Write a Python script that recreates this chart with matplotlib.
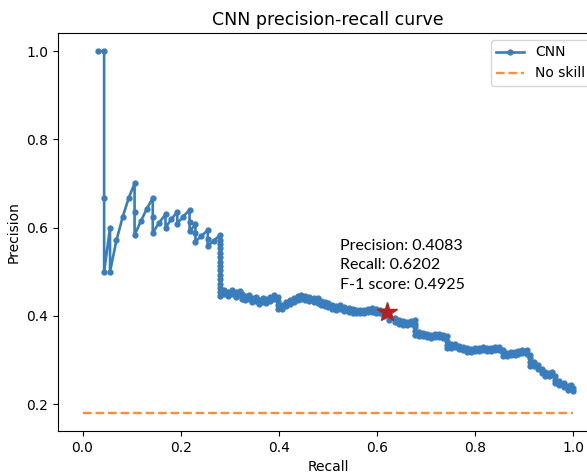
import matplotlib
matplotlib.use("Agg")
import matplotlib.pyplot as plt

# ---- data -------------------------------------------------------------
recall_head = [0.031, 0.044, 0.044, 0.044, 0.056, 0.056, 0.069, 0.082, 0.094, 0.106,
               0.106, 0.106, 0.119, 0.131, 0.143, 0.143, 0.143, 0.156, 0.169, 0.169,
               0.181, 0.193, 0.193, 0.205, 0.218, 0.218, 0.218, 0.230, 0.230, 0.230,
               0.242, 0.255, 0.255, 0.255, 0.267, 0.280]
precision_head = [1.0, 1.0, 0.667, 0.5, 0.6, 0.5, 0.571, 0.625, 0.667, 0.7,
                  0.636, 0.583, 0.615, 0.643, 0.667, 0.625, 0.588, 0.611, 0.630, 0.600,
                  0.619, 0.636, 0.609, 0.625, 0.640, 0.613, 0.592, 0.607, 0.587, 0.568,
                  0.581, 0.594, 0.575, 0.558, 0.570, 0.583]

recall_drop = [0.280] * 14
precision_drop = [0.573, 0.563, 0.553, 0.543, 0.533, 0.523, 0.513, 0.503, 0.493,
                  0.483, 0.473, 0.463, 0.453, 0.445]

recall_mid = [0.288, 0.288, 0.296, 0.296, 0.304, 0.304, 0.312, 0.312, 0.320, 0.320,
              0.325, 0.325, 0.331, 0.331, 0.339, 0.339, 0.345, 0.345, 0.353, 0.353,
              0.359, 0.359, 0.367, 0.367, 0.373, 0.373, 0.381, 0.381, 0.389, 0.389,
              0.398, 0.398, 0.398, 0.398, 0.406, 0.406, 0.414, 0.414, 0.422, 0.422,
              0.430, 0.430, 0.438, 0.438, 0.446, 0.446, 0.454, 0.454, 0.462, 0.462,
              0.471, 0.471, 0.479, 0.479, 0.485, 0.485, 0.493, 0.493, 0.501, 0.501,
              0.509, 0.509, 0.517, 0.517, 0.525, 0.525, 0.533, 0.533, 0.542, 0.542,
              0.550, 0.550, 0.558, 0.558, 0.566, 0.566, 0.574, 0.574, 0.582, 0.582,
              0.590, 0.590, 0.598, 0.598, 0.606, 0.606, 0.615, 0.615]
precision_mid = [0.459, 0.449, 0.454, 0.445, 0.459, 0.449, 0.454, 0.443, 0.456, 0.447,
                 0.449, 0.438, 0.445, 0.436, 0.447, 0.438, 0.440, 0.431, 0.443, 0.434,
                 0.436, 0.427, 0.440, 0.431, 0.438, 0.429, 0.443, 0.434, 0.447, 0.438,
                 0.443, 0.434, 0.424, 0.415, 0.424, 0.415, 0.431, 0.422, 0.436, 0.427,
                 0.440, 0.431, 0.445, 0.436, 0.447, 0.438, 0.445, 0.436, 0.443, 0.434,
                 0.440, 0.431, 0.440, 0.429, 0.434, 0.424, 0.431, 0.422, 0.429, 0.420,
                 0.424, 0.415, 0.422, 0.413, 0.424, 0.415, 0.420, 0.411, 0.418, 0.409,
                 0.415, 0.406, 0.413, 0.406, 0.413, 0.406, 0.413, 0.406, 0.415, 0.409,
                 0.418, 0.409, 0.415, 0.406, 0.413, 0.406, 0.411, 0.400]

recall_tail = [0.625, 0.625, 0.637, 0.637, 0.645, 0.645, 0.653, 0.653, 0.661, 0.661,
               0.669, 0.669, 0.677, 0.677, 0.677, 0.677, 0.677, 0.686, 0.686, 0.694,
               0.694, 0.702, 0.702, 0.710, 0.710, 0.718, 0.718, 0.726, 0.726, 0.734,
               0.734, 0.742, 0.742, 0.742, 0.742, 0.751, 0.751, 0.759, 0.759, 0.767,
               0.767, 0.775, 0.775, 0.783, 0.783, 0.791, 0.791, 0.799, 0.799, 0.807,
               0.807, 0.815, 0.815, 0.824, 0.824, 0.832, 0.832, 0.840, 0.840, 0.848,
               0.848, 0.856, 0.856, 0.856, 0.864, 0.864, 0.872, 0.872, 0.880, 0.880,
               0.888, 0.888, 0.896, 0.896, 0.905, 0.905, 0.911, 0.911, 0.911, 0.911,
               0.919, 0.919, 0.927, 0.927, 0.935, 0.935, 0.943, 0.943, 0.951, 0.951,
               0.957, 0.957, 0.963, 0.963, 0.963, 0.971, 0.971, 0.980, 0.980, 0.988,
               0.988, 0.994, 0.994, 1.0, 1.0]
precision_tail = [0.400, 0.390, 0.395, 0.386, 0.390, 0.381, 0.388, 0.379, 0.386, 0.379,
                  0.388, 0.381, 0.390, 0.381, 0.375, 0.366, 0.356, 0.363, 0.354, 0.361,
                  0.354, 0.359, 0.352, 0.356, 0.350, 0.359, 0.352, 0.359, 0.352, 0.356,
                  0.350, 0.354, 0.343, 0.334, 0.327, 0.336, 0.327, 0.336, 0.329, 0.332,
                  0.325, 0.329, 0.322, 0.327, 0.318, 0.325, 0.318, 0.327, 0.320, 0.327,
                  0.320, 0.329, 0.322, 0.327, 0.320, 0.327, 0.320, 0.329, 0.322, 0.329,
                  0.322, 0.322, 0.316, 0.309, 0.316, 0.309, 0.318, 0.311, 0.318, 0.311,
                  0.320, 0.313, 0.322, 0.316, 0.322, 0.313, 0.311, 0.304, 0.295, 0.286,
                  0.295, 0.286, 0.288, 0.279, 0.279, 0.270, 0.273, 0.263, 0.270, 0.263,
                  0.273, 0.266, 0.263, 0.254, 0.248, 0.252, 0.243, 0.248, 0.239, 0.241,
                  0.232, 0.243, 0.236, 0.236, 0.229]

no_skill_recall = [0.0, 1.0]
no_skill_precision = [0.18, 0.18]

best_recall = 0.6202
best_precision = 0.4083
best_f1 = 0.4925

recall = recall_head + recall_drop + recall_mid + recall_tail
precision = precision_head + precision_drop + precision_mid + precision_tail

# ---- figure -----------------------------------------------------------
fig = plt.figure(figsize=(5.87, 4.72), dpi=100)
ax = fig.add_axes([58 / 587, 1 - 431 / 472, 540 / 587, 398 / 472])

ax.plot(recall, precision, marker='.', color='#3a7dbd', linewidth=1.9,
        markersize=7, label='CNN')
ax.plot(no_skill_recall, no_skill_precision, linestyle='--', color='#f98f3e',
        linewidth=1.7, label='No skill')
ax.plot([best_recall], [best_precision], marker='*', color='#b22222',
        markersize=15, linestyle='none')

ax.text(0.525, 0.455,
        f"Precision: {best_precision:.4f}\nRecall: {best_recall:.4f}\nF-1 score: {best_f1:.4f}",
        fontsize=11.5, family=['Lato', 'DejaVu Sans'], va='bottom', ha='left',
        linespacing=1.5)

ax.set_title('CNN precision-recall curve', fontsize=12.5)
ax.set_xlabel('Recall')
ax.set_ylabel('Precision')
ax.set_xticks([0.0, 0.2, 0.4, 0.6, 0.8, 1.0])
ax.set_yticks([0.2, 0.4, 0.6, 0.8, 1.0])
ax.legend(loc='upper right')

fig.savefig('out.png', dpi=100)
